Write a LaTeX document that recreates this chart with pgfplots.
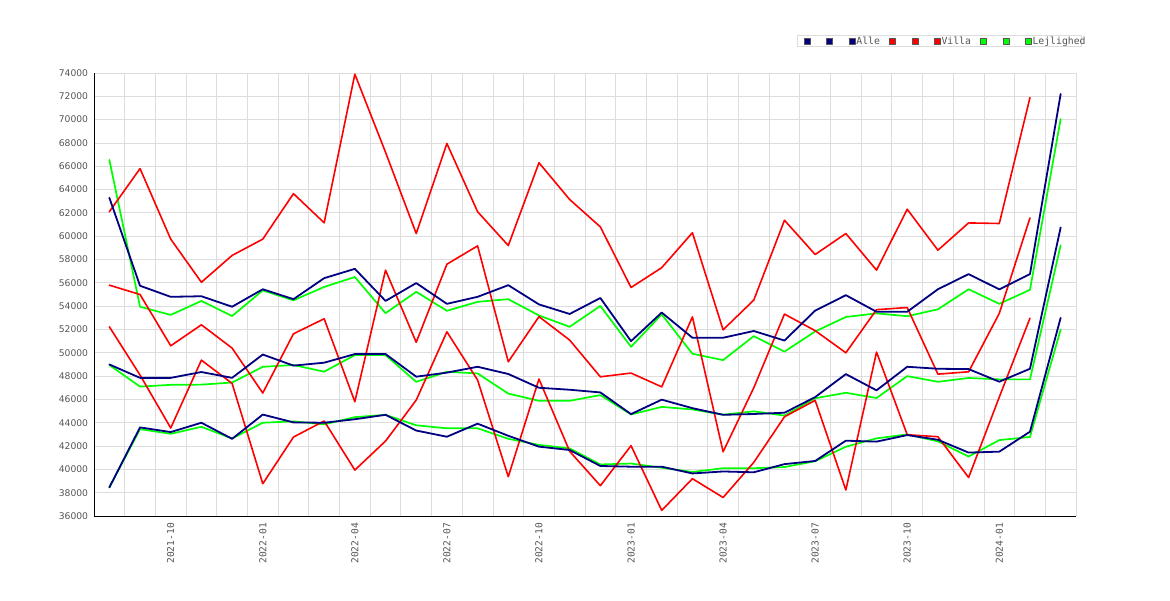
\documentclass[border=0pt]{standalone}
\usepackage{fontspec}
\setmainfont{DejaVu Sans}
\newfontfamily\monof{DejaVu Sans Mono}
\usepackage{pgfplots}
\pgfplotsset{compat=1.18}
\usepackage{pgfplotstable}
\definecolor{navyc}{HTML}{000080}
\definecolor{redc}{HTML}{FF0000}
\definecolor{greenc}{HTML}{00FF00}
\definecolor{gridc}{HTML}{DDDDDD}
\definecolor{textc}{HTML}{555555}
\definecolor{boxc}{HTML}{555555}

\pgfplotstableread{
i  a1    a2    a3    v1    v2    v3    l1    l2    l3
0  63300 49000 38450 62100 55800 52230 66550 48950 38450
1  55750 47850 43600 65800 55000 48090 53950 47100 43450
2  54800 47850 43200 59750 50600 43550 53250 47250 43050
3  54850 48350 44000 56050 52400 49370 54450 47270 43650
4  53950 47850 42620 58350 50400 47370 53150 47450 42650
5  55450 49850 44700 59750 46550 38770 55350 48800 44000
6  54600 48900 44030 63650 51630 42770 54500 48950 44120
7  56400 49150 44000 61150 52920 44150 55650 48380 43860
8  57200 49890 44300 73900 45800 39940 56500 49800 44480
9  54450 49890 44680 67200 57090 42430 53400 49800 44680
10 55980 47950 43330 60230 50900 45940 55230 47510 43780
11 54200 48300 42800 67950 57600 51800 53600 48370 43520
12 54800 48800 43920 62100 59170 47660 54370 48230 43520
13 55800 48180 42880 59200 49230 39370 54600 46500 42620
14 54150 47000 41950 66300 53100 47750 53200 45880 42100
15 53330 46830 41660 63150 51090 41550 52230 45880 41800
16 54700 46600 40290 60800 47940 38600 54020 46370 40420
17 51000 44740 40230 55600 48260 42030 50510 44710 40500
18 53450 45980 40230 57300 47080 36480 53300 45360 40140
19 51290 45250 39650 60300 53080 39200 49920 45140 39780
20 51290 44680 39820 51970 41510 37590 49370 44690 40100
21 51870 44750 39750 54520 47000 40600 51430 44980 40100
22 51050 44860 40450 61370 53320 44510 50100 44610 40200
23 53620 46200 40720 58430 51900 45920 51830 46100 40700
24 54940 48170 42460 60230 50000 38230 53070 46570 41940
25 53520 46780 42380 57090 53700 50060 53380 46120 42660
26 53520 48800 42940 62310 53880 42970 53140 48000 43000
27 55450 48630 42540 58800 48170 42800 53730 47510 42400
28 56750 48600 41440 61140 48370 39300 55450 47840 41100
29 55440 47520 41520 61090 53380 46200 54200 47720 42510
30 56750 48630 43230 71890 61570 52970 55400 47720 42780
31 72200 60750 53000 nan   nan   nan   70050 59230 52000
}\data

\begin{document}
\begin{tikzpicture}[x=1pt,y=1pt]
\useasboundingbox (0,0) rectangle (1170,600);
\begin{axis}[
  at={(94pt,84pt)}, anchor=south west,
  scale only axis, width=982pt, height=443pt,
  xmin=-0.5, xmax=31.5, ymin=36000, ymax=74000,
  xtick={2,5,...,29},
  xticklabels={2021-10,2022-01,2022-04,2022-07,2022-10,2023-01,2023-04,2023-07,2023-10,2024-01},
  minor xtick={0.5,1.5,...,31.5},
  xminorgrids, ymajorgrids,
  ytick={36000,38000,...,74000},
  major tick length=0pt, minor tick length=0pt,
  grid style={gridc, line width=0.8pt},
  minor grid style={gridc, line width=0.8pt},
  axis x line*=bottom, axis y line*=left,
  axis line style={black, line width=1pt, -},
  scaled y ticks=false,
  /pgf/number format/assume math mode=true,
  /pgf/number format/1000 sep={},
  yticklabel style={font=\fontsize{9.2}{10}\selectfont, text=textc, inner sep=0pt},
  yticklabel shift=5.7pt,
  xticklabel style={font=\monof\fontsize{9.6}{10}\selectfont, text=textc, rotate=90, anchor=east, inner sep=0pt},
  xticklabel shift=7pt,
  legend columns=9,
  legend cell align=left,
  legend style={at={(0.7159,1.0722)}, anchor=west, draw=gridc, line width=0.8pt,
    font=\monof\fontsize{9.8}{10}\selectfont, text=textc,
    inner xsep=6.5pt, inner ysep=0.8pt, column sep=0pt,
    nodes={inner sep=0pt}, fill=white},
  every axis plot/.append style={line join=round, line cap=round},
]
% Lejlighed
\addplot[greenc, line width=1.7pt, forget plot] table[x=i, y=l1] {\data};
\addplot[greenc, line width=1.7pt, forget plot] table[x=i, y=l2] {\data};
\addplot[greenc, line width=1.7pt, forget plot] table[x=i, y=l3] {\data};
% Villa
\addplot[redc, line width=1.6pt, forget plot] table[x=i, y=v1] {\data};
\addplot[redc, line width=1.6pt, forget plot] table[x=i, y=v2] {\data};
\addplot[redc, line width=1.6pt, forget plot] table[x=i, y=v3] {\data};
% Alle
\addplot[navyc, line width=1.8pt, forget plot] table[x=i, y=a1] {\data};
\addplot[navyc, line width=1.8pt, forget plot] table[x=i, y=a2] {\data};
\addplot[navyc, line width=1.8pt, forget plot] table[x=i, y=a3] {\data};

\addlegendimage{legend image code/.code={\draw[draw=boxc, fill=navyc, line width=0.5pt] (0pt,-3pt) rectangle (6pt,3pt);}}
\addlegendentry{\rule{16pt}{0pt}}
\addlegendimage{legend image code/.code={\draw[draw=boxc, fill=navyc, line width=0.5pt] (0pt,-3pt) rectangle (6pt,3pt);}}
\addlegendentry{\rule{16pt}{0pt}}
\addlegendimage{legend image code/.code={\draw[draw=boxc, fill=navyc, line width=0.5pt] (0pt,-3pt) rectangle (6pt,3pt);}}
\addlegendentry{\kern1pt Alle\rule{9pt}{0pt}}
\addlegendimage{legend image code/.code={\draw[draw=boxc, fill=redc, line width=0.5pt] (0pt,-3pt) rectangle (6pt,3pt);}}
\addlegendentry{\rule{16pt}{0pt}}
\addlegendimage{legend image code/.code={\draw[draw=boxc, fill=redc, line width=0.5pt] (0pt,-3pt) rectangle (6pt,3pt);}}
\addlegendentry{\rule{16pt}{0pt}}
\addlegendimage{legend image code/.code={\draw[draw=boxc, fill=redc, line width=0.5pt] (0pt,-3pt) rectangle (6pt,3pt);}}
\addlegendentry{\kern1pt Villa\rule{9pt}{0pt}}
\addlegendimage{legend image code/.code={\draw[draw=boxc, fill=greenc, line width=0.5pt] (0pt,-3pt) rectangle (6pt,3pt);}}
\addlegendentry{\rule{16pt}{0pt}}
\addlegendimage{legend image code/.code={\draw[draw=boxc, fill=greenc, line width=0.5pt] (0pt,-3pt) rectangle (6pt,3pt);}}
\addlegendentry{\rule{16pt}{0pt}}
\addlegendimage{legend image code/.code={\draw[draw=boxc, fill=greenc, line width=0.5pt] (0pt,-3pt) rectangle (6pt,3pt);}}
\addlegendentry{\kern1pt Lejlighed\kern-11pt}
\end{axis}
\end{tikzpicture}
\end{document}
